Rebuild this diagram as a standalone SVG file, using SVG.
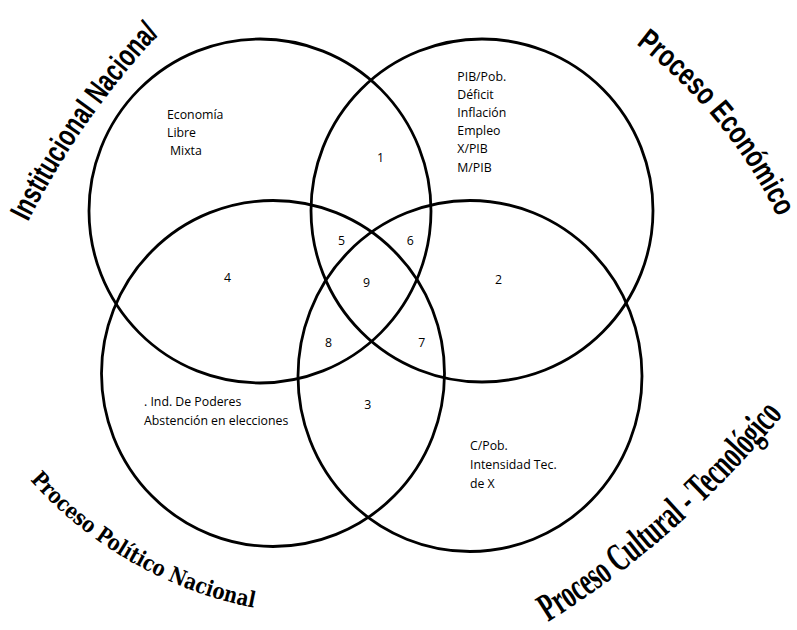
<svg xmlns="http://www.w3.org/2000/svg" xmlns:xlink="http://www.w3.org/1999/xlink" width="797" height="630" viewBox="0 0 797 630">
  <style>
    .ring { fill: none; stroke: #000; stroke-width: 2.8; }
    .lbl { font-family: "Open Sans", "Noto Sans", sans-serif; font-size: 12.3px; fill: #000; }
    .ttl-sans { font-family: "Liberation Sans", Arial, sans-serif; font-weight: bold; font-size: 31px; fill: #000; }
    .ttl-serif { font-family: "DejaVu Serif", "Liberation Serif", serif; font-weight: bold; font-size: 22px; fill: #000; }
    .ttl-cond { font-family: "Liberation Serif", "Times New Roman", serif; font-weight: bold; font-size: 40px; fill: #000; }
  </style>
  <defs>
    <path id="arc-inst" d="M 28 222 A 810 810 0 0 1 163 30"/>
    <path id="arc-econ" d="M 636 44 A 478 478 0 0 1 778 218"/>
    <path id="arc-pol" d="M 30 480 A 407 407 0 0 0 255 608"/>
    <path id="arc-cult" d="M 548 622 A 943 943 0 0 0 785 412"/>
  </defs>
  <rect width="797" height="630" fill="#fff"/>

  <g id="institucional">
    <ellipse class="ring" cx="260" cy="211" rx="171" ry="172"/>
    <text class="ttl-sans"><textPath xlink:href="#arc-inst" href="#arc-inst" textLength="230" lengthAdjust="spacingAndGlyphs">Institucional Naciona/</textPath></text>
    <text class="lbl" x="167" y="119">Economía</text>
    <text class="lbl" x="167" y="137">Libre</text>
    <text class="lbl" x="170" y="154.5">Mixta</text>
  </g>

  <g id="economico">
    <ellipse class="ring" cx="482" cy="210.5" rx="171" ry="171.5"/>
    <text class="ttl-sans"><textPath xlink:href="#arc-econ" href="#arc-econ" textLength="226" lengthAdjust="spacingAndGlyphs">Proceso Económico</textPath></text>
    <text class="lbl" x="457.3" y="80.7">PIB/Pob.</text>
    <text class="lbl" x="457.3" y="99">Déficit</text>
    <text class="lbl" x="457.3" y="116.9">Inflación</text>
    <text class="lbl" x="457.3" y="135">Empleo</text>
    <text class="lbl" x="457.3" y="153.3">X/PIB</text>
    <text class="lbl" x="457.3" y="171.7">M/PIB</text>
  </g>

  <g id="politico">
    <ellipse class="ring" cx="273" cy="373.5" rx="171.5" ry="173"/>
    <text class="ttl-serif"><textPath xlink:href="#arc-pol" href="#arc-pol" textLength="262" lengthAdjust="spacingAndGlyphs">Proceso Político Nacional</textPath></text>
    <text class="lbl" x="144" y="406">. Ind. De Poderes</text>
    <text class="lbl" x="144" y="425">Abstención en elecciones</text>
  </g>

  <g id="cultural">
    <ellipse class="ring" cx="470" cy="376" rx="172" ry="175.5"/>
    <text class="ttl-cond"><textPath xlink:href="#arc-cult" href="#arc-cult" textLength="315" lengthAdjust="spacingAndGlyphs">Proceso Cultural - Tecnológico</textPath></text>
    <text class="lbl" x="470" y="450">C/Pob.</text>
    <text class="lbl" x="470" y="469.3">Intensidad Tec.</text>
    <text class="lbl" x="470" y="488.3">de X</text>
  </g>

  <g id="regions">
    <text class="lbl" x="377" y="161.7">1</text>
    <text class="lbl" x="495" y="284">2</text>
    <text class="lbl" x="364.3" y="408.7">3</text>
    <text class="lbl" x="224" y="282">4</text>
    <text class="lbl" x="338" y="245">5</text>
    <text class="lbl" x="406.7" y="245">6</text>
    <text class="lbl" x="418.3" y="346.7">7</text>
    <text class="lbl" x="325" y="346.7">8</text>
    <text class="lbl" x="363" y="287">9</text>
  </g>
</svg>
